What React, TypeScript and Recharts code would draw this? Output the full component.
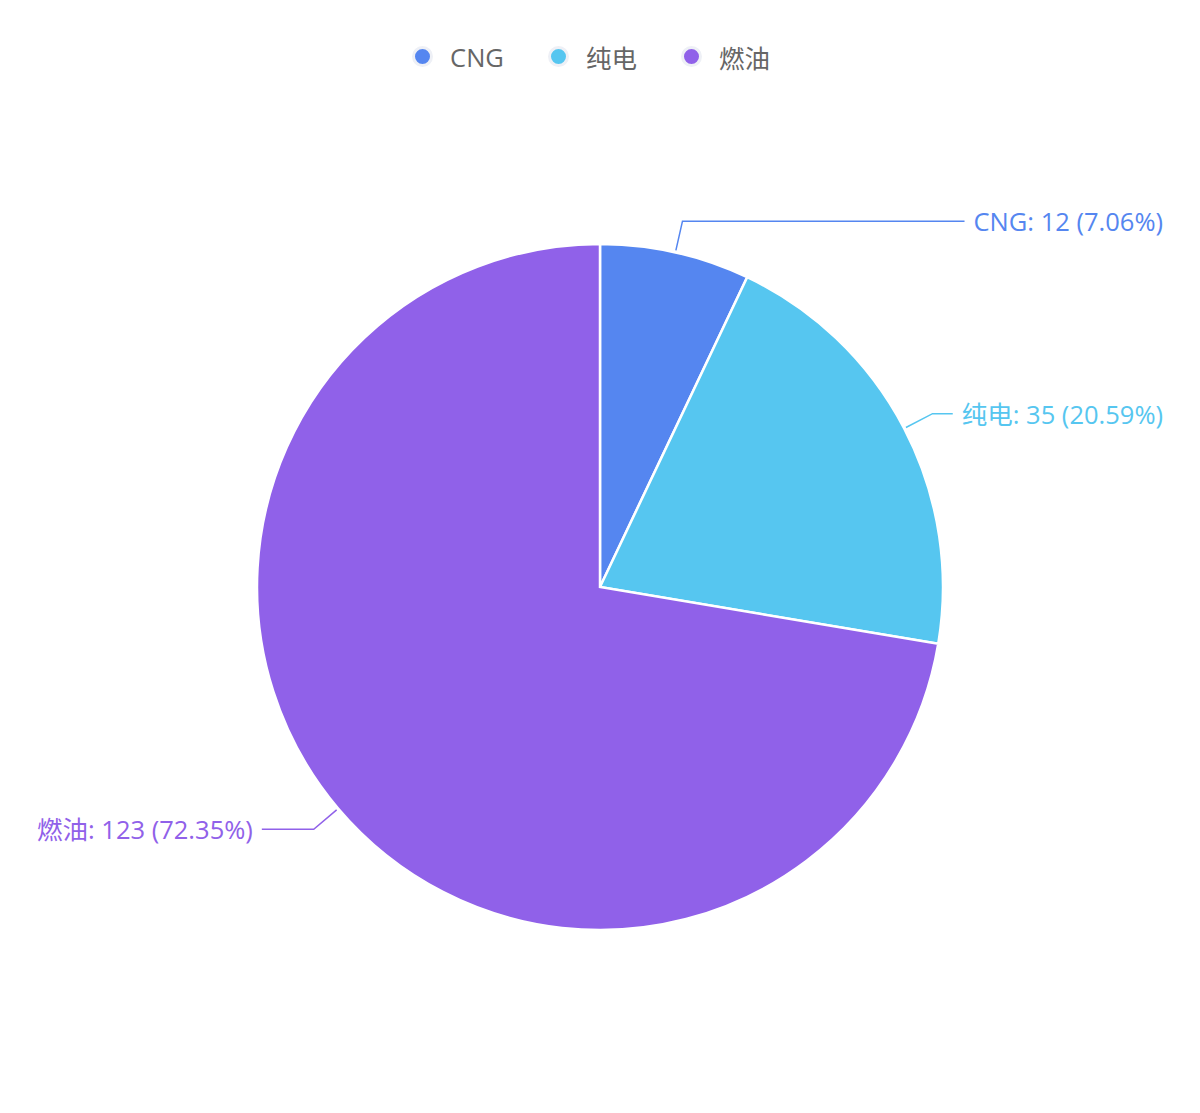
import { PieChart, Pie, Cell, Legend } from "recharts"

const categories = ["CNG", "纯电", "燃油"]
const counts = [12, 35, 123]
const COLORS = ["#5586f0", "#56c6f0", "#9061e9"]

const FONT = "'Open Sans', 'Noto Sans CJK SC', sans-serif"
const FS = 25.5
const W = 1200
const H = 1113
const RADIAN = Math.PI / 180

const total = counts.reduce((a, b) => a + b, 0)
const data = categories.map((name, i) => ({
  name,
  value: counts[i],
  pct: ((counts[i] / total) * 100).toFixed(2),
}))

let ctx: CanvasRenderingContext2D | null = null
function textWidth(s: string) {
  if (!ctx) ctx = document.createElement("canvas").getContext("2d")
  if (!ctx) return s.length * 12
  ctx.font = `${FS}px ${FONT}`
  return ctx.measureText(s).width
}

function renderLabel(props: any) {
  const { cx, cy, midAngle, outerRadius, index } = props
  const d = data[index]
  const color = COLORS[index]
  const cos = Math.cos(-midAngle * RADIAN)
  const sin = Math.sin(-midAngle * RADIAN)
  const sx = cx + (outerRadius + 2) * cos
  const sy = cy + (outerRadius + 2) * sin
  const mx = cx + (outerRadius + 32) * cos
  const my = cy + (outerRadius + 32) * sin
  const right = cos >= 0
  const text = `${d.name}: ${d.value} (${d.pct}%)`
  const w = textWidth(text)
  const edge = right ? W - 37 : 37
  const ex = right ? edge - w - 9 : edge + w + 9
  return (
    <g key={`lbl-${index}`}>
      <polyline
        points={`${sx},${sy} ${mx},${my} ${ex},${my}`}
        fill="none"
        stroke={color}
        strokeWidth={1.5}
      />
      <text
        x={edge}
        y={my}
        textAnchor={right ? "end" : "start"}
        dominantBaseline="central"
        fill={color}
        fontSize={FS}
        fontFamily={FONT}
      >
        {text}
      </text>
    </g>
  )
}

function renderLegend() {
  return (
    <div
      style={{
        display: "flex",
        justifyContent: "center",
        gap: 44,
        paddingRight: 18,
        fontFamily: FONT,
        fontSize: FS,
        color: "#666",
      }}
    >
      {data.map((d, i) => (
        <div key={d.name} style={{ display: "flex", alignItems: "center", gap: 17 }}>
          {/* legend dot with soft ring */}
          <span
            style={{
              width: 15,
              height: 15,
              borderRadius: "50%",
              backgroundColor: COLORS[i],
              border: "3px solid #eef0f6",
            }}
          />
          <span>{d.name}</span>
        </div>
      ))}
    </div>
  )
}

export default function App() {
  return (
    <div style={{ position: "absolute", left: 0, top: 0, width: W, height: H, background: "#fff" }}>
      <PieChart width={W} height={H} margin={{ top: 0, right: 0, bottom: 0, left: 0 }}>
        <Legend
          verticalAlign="top"
          content={renderLegend}
          wrapperStyle={{ top: 38, left: 0, width: W }}
        />
        <Pie
          data={data}
          dataKey="value"
          nameKey="name"
          cx={600}
          cy={550}
          outerRadius={343}
          startAngle={90}
          endAngle={-270}
          stroke="#fff"
          strokeWidth={2.5}
          label={renderLabel}
          labelLine={false}
          isAnimationActive={false}
        >
          {data.map((d, i) => (
            <Cell key={d.name} fill={COLORS[i]} />
          ))}
        </Pie>
      </PieChart>
    </div>
  )
}
